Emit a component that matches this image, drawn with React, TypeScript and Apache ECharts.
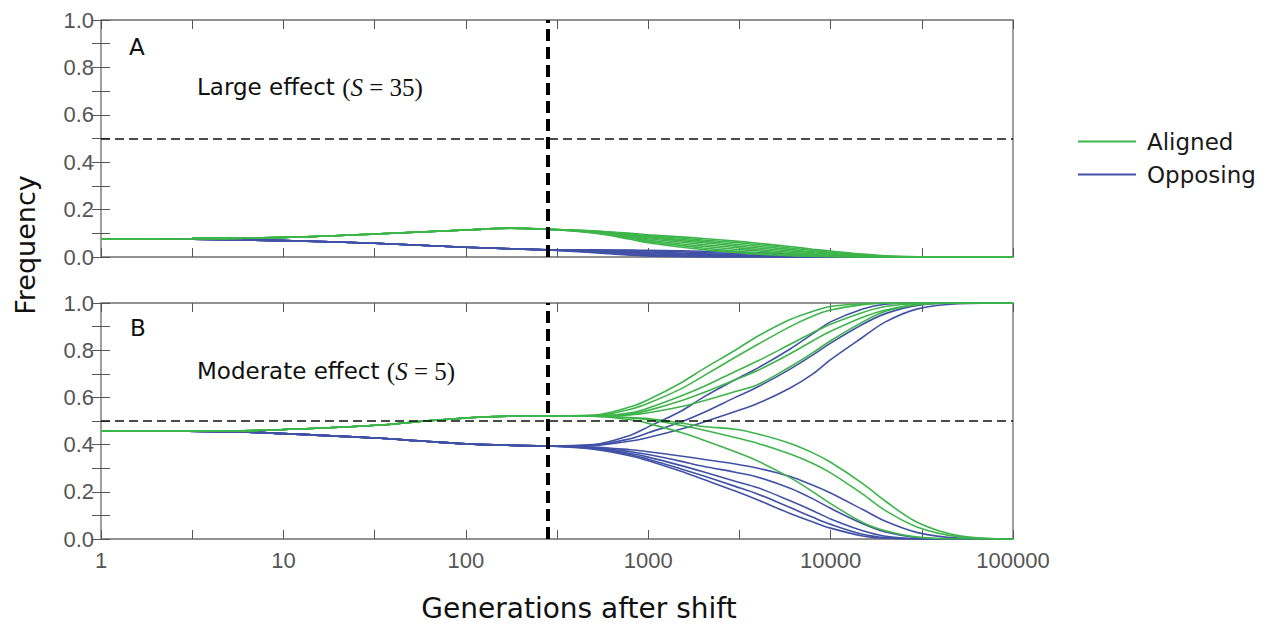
import React, { useEffect, useRef } from "react";
import * as echarts from "echarts";

// ---------- data ----------
const GREEN = "#3db54a";
const BLUE = "#4152a6";

const shiftGeneration = 280;
const thresholdFreq = 0.5;

const xTickLabels = ["1", "10", "100", "1000", "10000", "100000"];

// Panel A (large effect) – shared trajectory before the shift
const preXA = [1, 3.16, 10, 31.6, 100, 175, 280];
const preAlignedA = [0.076, 0.078, 0.083, 0.097, 0.114, 0.121, 0.117];
const preOpposingA = [0.076, 0.075, 0.069, 0.058, 0.041, 0.035, 0.03];

// Panel B (moderate effect) – shared trajectory before the shift
const preXB = [1, 3, 7, 15, 34, 60, 100, 170, 280];
const preAlignedB = [0.458, 0.458, 0.46, 0.469, 0.483, 0.5, 0.513, 0.52, 0.521];
const preOpposingB = [0.458, 0.457, 0.452, 0.44, 0.427, 0.414, 0.403, 0.397, 0.394];

// generations after the shift at which each trajectory is read
const postX = [500, 800, 1000, 1500, 2000, 3000, 4000, 6000, 8000, 10000, 15000, 20000, 30000, 50000, 100000];

const alignedA1 = [0.110, 0.100, 0.094, 0.085, 0.078, 0.067, 0.058, 0.044, 0.033, 0.025, 0.012, 0.005, 0.001, 0, 0];
const alignedA2 = [0.109, 0.097, 0.090, 0.080, 0.072, 0.061, 0.052, 0.038, 0.028, 0.020, 0.009, 0.003, 0, 0, 0];
const alignedA3 = [0.108, 0.094, 0.086, 0.074, 0.066, 0.054, 0.045, 0.032, 0.022, 0.016, 0.006, 0.002, 0, 0, 0];
const alignedA4 = [0.107, 0.091, 0.082, 0.069, 0.060, 0.047, 0.038, 0.026, 0.018, 0.012, 0.004, 0.001, 0, 0, 0];
const alignedA5 = [0.106, 0.088, 0.077, 0.063, 0.053, 0.040, 0.031, 0.020, 0.013, 0.008, 0.002, 0, 0, 0, 0];
const alignedA6 = [0.105, 0.084, 0.072, 0.056, 0.046, 0.033, 0.025, 0.015, 0.009, 0.005, 0.001, 0, 0, 0, 0];
const alignedA7 = [0.103, 0.080, 0.066, 0.049, 0.038, 0.025, 0.017, 0.009, 0.005, 0.002, 0, 0, 0, 0, 0];
const alignedA8 = [0.101, 0.075, 0.060, 0.042, 0.031, 0.019, 0.012, 0.005, 0.002, 0.001, 0, 0, 0, 0, 0];

const opposingA1 = [0.030, 0.029, 0.028, 0.026, 0.024, 0.021, 0.018, 0.012, 0.007, 0.004, 0, 0, 0, 0, 0];
const opposingA2 = [0.029, 0.027, 0.025, 0.022, 0.019, 0.015, 0.012, 0.007, 0.004, 0.002, 0, 0, 0, 0, 0];
const opposingA3 = [0.028, 0.024, 0.021, 0.017, 0.014, 0.010, 0.007, 0.004, 0.002, 0.001, 0, 0, 0, 0, 0];
const opposingA4 = [0.027, 0.021, 0.018, 0.013, 0.010, 0.006, 0.004, 0.002, 0.001, 0, 0, 0, 0, 0, 0];
const opposingA5 = [0.025, 0.018, 0.014, 0.009, 0.006, 0.003, 0.002, 0.001, 0, 0, 0, 0, 0, 0, 0];
const opposingA6 = [0.023, 0.014, 0.010, 0.005, 0.003, 0.001, 0.001, 0, 0, 0, 0, 0, 0, 0, 0];
const opposingA7 = [0.021, 0.011, 0.007, 0.003, 0.001, 0, 0, 0, 0, 0, 0, 0, 0, 0, 0];
const opposingA8 = [0.018, 0.008, 0.004, 0.001, 0, 0, 0, 0, 0, 0, 0, 0, 0, 0, 0];

const alignedB1 = [0.525, 0.56, 0.59, 0.66, 0.72, 0.80, 0.86, 0.93, 0.965, 0.985, 0.997, 1, 1, 1, 1];
const alignedB2 = [0.522, 0.55, 0.575, 0.635, 0.69, 0.77, 0.825, 0.9, 0.945, 0.97, 0.993, 0.999, 1, 1, 1];
const alignedB3 = [0.521, 0.535, 0.555, 0.605, 0.645, 0.71, 0.755, 0.825, 0.875, 0.91, 0.96, 0.985, 0.998, 1, 1];
const alignedB4 = [0.521, 0.53, 0.545, 0.585, 0.62, 0.675, 0.715, 0.785, 0.84, 0.88, 0.94, 0.97, 0.995, 1, 1];
const alignedB5 = [0.521, 0.526, 0.535, 0.56, 0.585, 0.625, 0.655, 0.73, 0.79, 0.84, 0.92, 0.965, 0.993, 1, 1];
const alignedB6 = [0.52, 0.515, 0.51, 0.492, 0.477, 0.465, 0.445, 0.405, 0.365, 0.325, 0.235, 0.16, 0.07, 0.015, 0];
const alignedB7 = [0.52, 0.513, 0.505, 0.482, 0.462, 0.43, 0.405, 0.36, 0.32, 0.28, 0.19, 0.12, 0.05, 0.01, 0];
const alignedB8 = [0.52, 0.505, 0.49, 0.452, 0.42, 0.37, 0.33, 0.26, 0.2, 0.15, 0.07, 0.035, 0.008, 0, 0];

const opposingB1 = [0.40, 0.44, 0.475, 0.54, 0.6, 0.675, 0.725, 0.805, 0.87, 0.92, 0.975, 0.995, 1, 1, 1];
const opposingB2 = [0.398, 0.425, 0.45, 0.495, 0.535, 0.6, 0.645, 0.72, 0.78, 0.83, 0.91, 0.955, 0.99, 1, 1];
const opposingB3 = [0.396, 0.415, 0.43, 0.465, 0.495, 0.54, 0.575, 0.64, 0.70, 0.76, 0.855, 0.92, 0.975, 0.997, 1];
const opposingB4 = [0.39, 0.378, 0.37, 0.352, 0.338, 0.318, 0.3, 0.265, 0.228, 0.195, 0.125, 0.075, 0.027, 0.004, 0];
const opposingB5 = [0.387, 0.37, 0.358, 0.33, 0.308, 0.283, 0.262, 0.215, 0.17, 0.13, 0.065, 0.03, 0.006, 0, 0];
const opposingB6 = [0.385, 0.362, 0.347, 0.312, 0.285, 0.245, 0.217, 0.162, 0.12, 0.085, 0.035, 0.012, 0.002, 0, 0];
const opposingB7 = [0.383, 0.357, 0.338, 0.298, 0.268, 0.223, 0.19, 0.133, 0.092, 0.062, 0.02, 0.006, 0, 0, 0];
const opposingB8 = [0.38, 0.352, 0.332, 0.288, 0.253, 0.203, 0.165, 0.108, 0.072, 0.046, 0.013, 0.003, 0, 0, 0];

const alignedA = [alignedA1, alignedA2, alignedA3, alignedA4, alignedA5, alignedA6, alignedA7, alignedA8];
const opposingA = [opposingA1, opposingA2, opposingA3, opposingA4, opposingA5, opposingA6, opposingA7, opposingA8];
const alignedB = [alignedB1, alignedB2, alignedB3, alignedB4, alignedB5, alignedB6, alignedB7, alignedB8];
const opposingB = [opposingB1, opposingB2, opposingB3, opposingB4, opposingB5, opposingB6, opposingB7, opposingB8];

// ---------- chart ----------
const FONT = "DejaVu Sans";
const TICK_FONT = "Liberation Sans";
const AXIS_GRAY = "#6e6e6e";
const TICK_GRAY = "#555";

function buildLines(
  preX: number[],
  pre: number[],
  posts: number[][],
  name: string,
  color: string,
  xAxisIndex: number,
  yAxisIndex: number
) {
  return posts.map((p) => ({
    type: "line",
    name,
    xAxisIndex,
    yAxisIndex,
    symbol: "none",
    showSymbol: false,
    smooth: 0.35,
    lineStyle: { color, width: 1.6 },
    itemStyle: { color },
    emphasis: { disabled: true },
    data: [
      ...preX.map((x, i) => [x, pre[i]]),
      ...postX.map((x, i) => [x, p[i]]),
    ],
  }));
}

function guideMarkLine() {
  return {
    silent: true,
    symbol: ["none", "none"],
    label: { show: false },
    z: 10,
    data: [
      { yAxis: thresholdFreq, lineStyle: { type: [9, 5], width: 1.5, color: "#111" } },
      { xAxis: shiftGeneration, lineStyle: { type: [12, 6], width: 4, color: "#000" } },
    ],
  };
}

function tickAxisX(gridIndex: number, position: string, showLabels: boolean) {
  return {
    type: "value",
    gridIndex,
    position,
    min: 0,
    max: 5,
    interval: 1,
    axisLine: { show: false },
    axisTick: { show: true, inside: true, length: 9, lineStyle: { color: TICK_GRAY, width: 1 } },
    minorTick: { show: true, splitNumber: 2, length: 9, lineStyle: { color: TICK_GRAY, width: 1 } },
    splitLine: { show: false },
    axisLabel: {
      show: showLabels,
      margin: 10,
      fontFamily: TICK_FONT,
      fontSize: 22,
      color: TICK_GRAY,
      formatter: (v: number) => xTickLabels[Math.round(v)] ?? "",
    },
  };
}

function axisY(gridIndex: number, position: string, showLabels: boolean) {
  return {
    type: "value",
    gridIndex,
    position,
    min: 0,
    max: 1,
    interval: 0.2,
    axisLine: { show: false },
    axisTick: { show: true, inside: true, length: 9, lineStyle: { color: TICK_GRAY, width: 1 } },
    minorTick: { show: true, splitNumber: 2, length: 9, lineStyle: { color: TICK_GRAY, width: 1 } },
    splitLine: { show: false },
    axisLabel: {
      show: showLabels,
      margin: 7,
      fontFamily: TICK_FONT,
      fontSize: 22,
      color: TICK_GRAY,
      formatter: (v: number) => v.toFixed(1),
    },
  };
}

function logAxis(gridIndex: number) {
  return { type: "log", logBase: 10, gridIndex, min: 1, max: 100000, show: false };
}

export default function App() {
  const ref = useRef<HTMLDivElement>(null);

  useEffect(() => {
    document.body.style.margin = "0";
    if (!ref.current) return;
    const chart = echarts.init(ref.current, null, { renderer: "svg" });

    const seriesA = [
      ...buildLines(preXA, preOpposingA, opposingA, "Opposing", BLUE, 0, 0),
      ...buildLines(preXA, preAlignedA, alignedA, "Aligned", GREEN, 0, 0),
    ];
    const seriesB = [
      ...buildLines(preXB, preOpposingB, opposingB, "Opposing", BLUE, 3, 2),
      ...buildLines(preXB, preAlignedB, alignedB, "Aligned", GREEN, 3, 2),
    ];
    (seriesA[0] as any).markLine = guideMarkLine();
    (seriesB[0] as any).markLine = guideMarkLine();

    const mathStyle = { fontFamily: "Liberation Serif", fontSize: 25, fill: "#111" };
    const option: any = {
      animation: false,
      backgroundColor: "#fff",
      grid: [
        { left: 101, top: 20, width: 912, height: 237, show: true, borderColor: AXIS_GRAY, borderWidth: 1.3, backgroundColor: "transparent" },
        { left: 101, top: 303, width: 912, height: 236, show: true, borderColor: AXIS_GRAY, borderWidth: 1.3, backgroundColor: "transparent" },
      ],
      xAxis: [
        logAxis(0),
        tickAxisX(0, "bottom", false),
        tickAxisX(0, "top", false),
        logAxis(1),
        tickAxisX(1, "bottom", true),
        tickAxisX(1, "top", false),
      ],
      yAxis: [axisY(0, "left", true), axisY(0, "right", false), axisY(1, "left", true), axisY(1, "right", false)],
      legend: {
        data: ["Aligned", "Opposing"],
        orient: "vertical",
        left: 1073,
        top: 125,
        icon: "rect",
        itemWidth: 58,
        itemHeight: 2,
        itemGap: 10,
        textStyle: { fontFamily: FONT, fontSize: 23, color: "#1a1a1a", padding: [0, 0, 0, 6] },
      },
      graphic: [
        { type: "text", x: 129, y: 47, style: { text: "A", font: `23px "${FONT}"`, fill: "#111", textVerticalAlign: "middle" } },
        {
          type: "text",
          x: 197,
          y: 87,
          style: {
            text: "{t|Large effect }{m|(}{s|S}{m| = 35)}",
            textVerticalAlign: "middle",
            rich: {
              t: { fontFamily: FONT, fontSize: 23, fill: "#111" },
              m: mathStyle,
              s: { ...mathStyle, fontStyle: "italic" },
            },
          },
        },
        { type: "text", x: 130, y: 328, style: { text: "B", font: `23px "${FONT}"`, fill: "#111", textVerticalAlign: "middle" } },
        {
          type: "text",
          x: 197,
          y: 371,
          style: {
            text: "{t|Moderate effect }{m|(}{s|S}{m| = 5)}",
            textVerticalAlign: "middle",
            rich: {
              t: { fontFamily: FONT, fontSize: 23, fill: "#111" },
              m: mathStyle,
              s: { ...mathStyle, fontStyle: "italic" },
            },
          },
        },
        {
          type: "text",
          x: 25,
          y: 245,
          rotation: Math.PI / 2,
          style: { text: "Frequency", font: `27px "${FONT}"`, fill: "#111", textAlign: "center", textVerticalAlign: "middle" },
        },
        {
          type: "text",
          x: 579,
          y: 608,
          style: { text: "Generations after shift", font: `28px "${FONT}"`, fill: "#111", textAlign: "center", textVerticalAlign: "middle" },
        },
      ],
      series: [...seriesA, ...seriesB],
    };

    chart.setOption(option);
    return () => chart.dispose();
  }, []);

  return <div ref={ref} style={{ width: 1266, height: 626 }} />;
}
